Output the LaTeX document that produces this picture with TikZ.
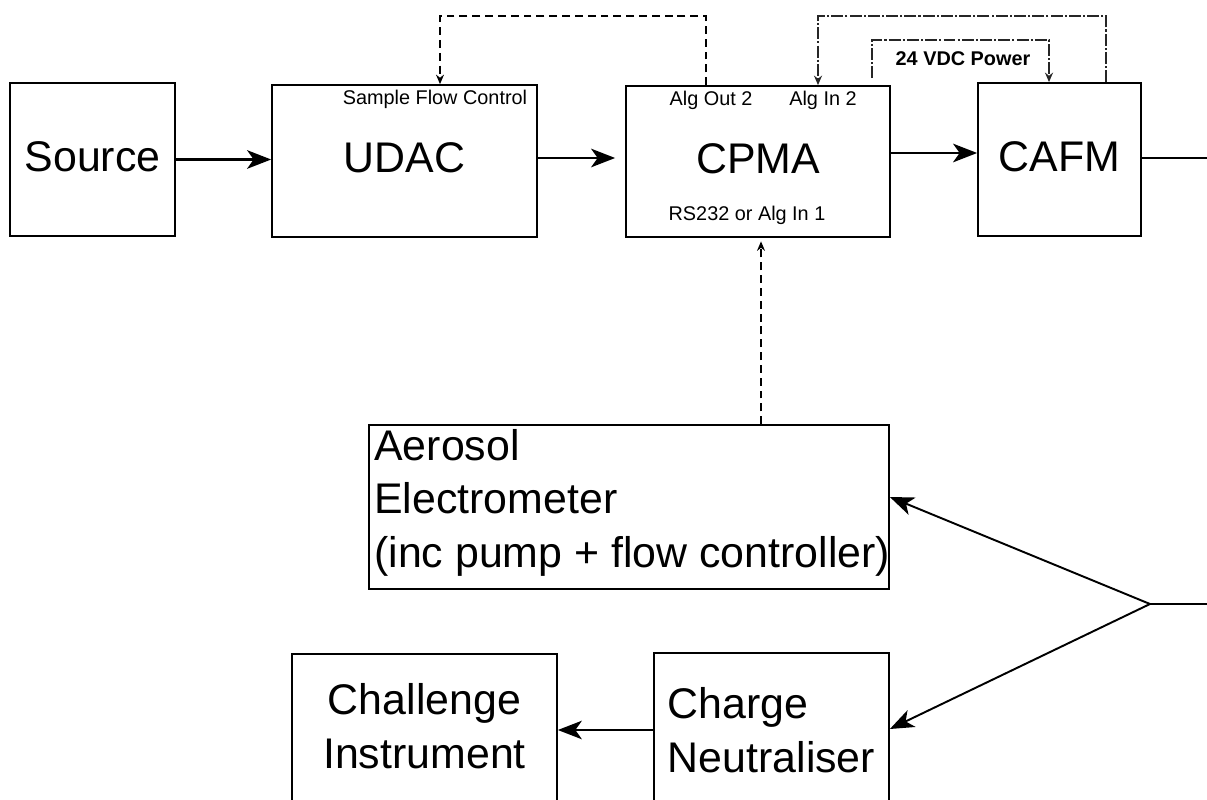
\documentclass[tikz,border=0pt]{standalone}
\usepackage{fontspec}
\setmainfont{Liberation Sans}
\usepackage{tikz}
\usetikzlibrary{arrows.meta}
\usetikzlibrary{positioning}
\tikzset{
    box/.style = {rectangle, draw=black, line width=1pt, inner sep=0pt, align=center, text depth=0.12cm, font=\fontsize{24.4}{30.4}\selectfont},
    bigtxt/.style = {inner sep=0pt, align=left, font=\fontsize{24.4}{30.4}\selectfont},
    smalltxt/.style = {inner sep=0pt, font=\fontsize{11.3}{13}\selectfont},
    flow/.style = {line width=1.6pt, -{Stealth[length=4.8mm,width=3.7mm,inset=1.3mm]}},
    flowb/.style = {line width=1.1pt, -{Stealth[length=4.8mm,width=3.7mm,inset=1.3mm]}},
    pipe/.style = {line width=1.1pt},
    sig/.style = {line width=0.8pt, dash pattern=on 4.5pt off 2.8pt, -{Stealth[length=1.9mm,width=1.6mm]}},
    pwr/.style = {line width=0.9pt, black!85, dash pattern=on 6.8pt off 1.2pt on 1.2pt off 1.2pt, -{Stealth[length=1.9mm,width=1.6mm]}},
}
\begin{document}
\begin{tikzpicture}[x=0.02cm, y=-0.02cm]
\useasboundingbox (0,0) rectangle (1207,800);
% boxes
\node[box, minimum width=3.3cm, minimum height=3.06cm] at (92.5,159.5) (src) {Source};
\node[box, minimum width=5.3cm, minimum height=3.04cm] at (404.5,161) (udac) {UDAC};
\node[box, minimum width=5.28cm, minimum height=3.02cm] at (758,161.5) (cpma) {CPMA};
\node[box, minimum width=3.26cm, minimum height=3.06cm] at (1059.5,159.5) (cafm) {CAFM};
\node[box, minimum width=10.4cm, minimum height=3.28cm] at (629,507) (ae) {};
\node[bigtxt, anchor=north west] at (374,429) (aetxt) {Aerosol\\Electrometer\\(inc pump + flow controller)};
\node[box, text depth=0.32cm, minimum width=5.3cm, minimum height=3.2cm] at (424.5,734) (chal) {Challenge\\Instrument};
\node[box, align=left, minimum width=4.7cm, minimum height=3.2cm] at (771.5,733) (neut) {Charge\\Neutraliser};
% port labels
\node[smalltxt] at (435,99) (sfc) {Sample Flow Control};
\node[smalltxt] at (711,100) (aout) {Alg Out 2};
\node[smalltxt] at (823,100) (ain) {Alg In 2};
\node[smalltxt] at (747,215) (rs) {RS232 or Alg In 1};
\node[smalltxt, font=\fontsize{11.3}{13}\selectfont\bfseries] at (963,59) (vdc) {24 VDC Power};
%
\coordinate (outR) at (1207,158);
\coordinate (inR) at (1207,604);
\coordinate (jn) at (1150,604);
\coordinate (pOut) at (706,16);
\coordinate (pUd) at (440,16);
\coordinate (pCa) at (1106,16);
\coordinate (pIn) at (818,16);
\coordinate (pPw) at (872,40);
\coordinate (pCf) at (1049,40);
\coordinate (pAe) at (761,0);
% sample flow
\draw[flow] (src.east) -- (src.east -| udac.west);
\draw[flow, shorten >=0.2cm] ([yshift=0.06cm]udac.east) -- ([yshift=0.06cm]udac.east -| cpma.west);
\draw[flow] ([yshift=0.17cm]cpma.east) -- ([yshift=0.17cm]cpma.east -| cafm.west);
\draw[pipe] ([yshift=0.03cm]cafm.east) -- (outR);
\draw[pipe] (inR) -- (jn);
\draw[flowb] (jn) -- ([yshift=0.2cm]ae.east);
\draw[flowb] (jn) -- ([yshift=0.08cm]neut.east);
\draw[flowb] ([yshift=0.06cm]neut.west) -- ([yshift=0.06cm]neut.west -| chal.east);
% signals
\draw[sig] (pOut |- cpma.north) -- (pOut) -- (pUd) -- (pUd |- udac.north);
\draw[sig, shorten >=2pt] (pAe |- ae.north) -- (pAe |- cpma.south);
\draw[pwr] (pCa |- cafm.north) -- (pCa) -- (pIn) -- (pIn |- cpma.north);
\draw[pwr, shorten <=0.14cm] (pPw |- cpma.north) -- (pPw) -- (pCf) -- (pCf |- cafm.north);
\end{tikzpicture}
\end{document}
